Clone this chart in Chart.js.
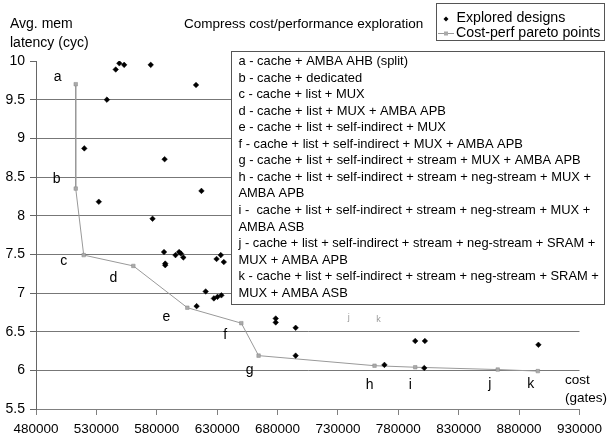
<!DOCTYPE html>
<html>
<head>
<meta charset="utf-8">
<script src="https://cdn.jsdelivr.net/npm/chart.js@4"></script>
<style>
html,body{margin:0;padding:0;background:#fff;}
#wrap{width:608px;height:437px;position:relative;}
</style>
</head>
<body>
<div id="wrap"><canvas id="c" width="608" height="437"></canvas></div>
<script>
// ---- data ----
const exploredCost = [538700, 546000, 549000, 553000, 575000, 612500, 520000, 532000, 586500, 576500,
  617000, 586000, 587000, 587000, 595500, 598500, 600000, 602000, 620500, 629500,
  633000, 635500, 627300, 630300, 633500, 613000, 678500, 678500, 695000, 695000,
  794000, 802000, 768500, 801500, 896000];
const exploredLatency = [9.50, 9.89, 9.97, 9.95, 9.95, 9.69, 8.87, 8.18, 8.73, 7.96,
  8.32, 7.53, 7.38, 7.36, 7.49, 7.53, 7.51, 7.46, 7.02, 7.44,
  7.49, 7.40, 6.93, 6.95, 6.97, 6.83, 6.67, 6.62, 6.55, 6.19,
  6.38, 6.38, 6.07, 6.03, 6.33];

const paretoCost = [512900, 512900, 519500, 560600, 605300, 650000, 664300, 760300, 794000, 862300, 895500];
const paretoLatency = [9.70, 8.35, 7.49, 7.35, 6.81, 6.61, 6.19, 6.06, 6.04, 6.01, 5.99];
const paretoLabels = ['a', 'b', 'c', 'd', 'e', 'f', 'g', 'h', 'i', 'j', 'k'];

const designNotes = [
  'a - cache + AMBA AHB (split)',
  'b - cache + dedicated',
  'c - cache + list + MUX',
  'd - cache + list + MUX + AMBA APB',
  'e - cache + list + self-indirect + MUX',
  'f - cache + list + self-indirect + MUX + AMBA APB',
  'g - cache + list + self-indirect + stream + MUX + AMBA APB',
  'h - cache + list + self-indirect + stream + neg-stream + MUX +',
  'AMBA APB',
  'i -  cache + list + self-indirect + stream + neg-stream + MUX +',
  'AMBA ASB',
  'j - cache + list + self-indirect + stream + neg-stream + SRAM +',
  'MUX + AMBA APB',
  'k - cache + list + self-indirect + stream + neg-stream + SRAM +',
  'MUX + AMBA ASB'
];

const xTicks = [480000, 530000, 580000, 630000, 680000, 730000, 780000, 830000, 880000, 930000];
const yTicks = [5.5, 6, 6.5, 7, 7.5, 8, 8.5, 9, 9.5, 10];

const chartTitle = 'Compress cost/performance exploration';
const yTitle = ['Avg. mem', 'latency (cyc)'];
const xTitle = ['cost', '(gates)'];
const legendNames = ['Explored designs', 'Cost-perf pareto points'];
// stray faint labels in the plot
const faintLabels = ['j', 'k'];
const faintCost = [739000, 763600];
const faintLatency = [6.68, 6.66];

// ---- layout / style (pixel offsets for letter labels relative to their pareto point) ----
const labelOffsets = [[-18,-7],[-19,-9],[-20,6],[-20,12],[-21,9],[-16,12],[-9,15],[-5,19],[-5,18],[-8,15],[-7,13]];
const FONT = '"Liberation Sans", Arial, sans-serif';

const overlay = {
  id: 'overlay',
  afterDatasetsDraw(chart) {
    const ctx = chart.ctx;
    const xs = chart.scales.x, ys = chart.scales.y;
    ctx.save();
    ctx.fillStyle = '#000';
    ctx.textBaseline = 'middle';
    // letter labels
    ctx.font = '14px ' + FONT;
    ctx.textAlign = 'center';
    paretoLabels.forEach((l, i) => {
      const px = xs.getPixelForValue(paretoCost[i]) + labelOffsets[i][0];
      const py = ys.getPixelForValue(paretoLatency[i]) + labelOffsets[i][1];
      ctx.fillText(l, px, py);
    });
    ctx.fillStyle = '#999';
    ctx.font = '9px ' + FONT;
    faintLabels.forEach((l, i) => {
      ctx.fillText(l, xs.getPixelForValue(faintCost[i]), ys.getPixelForValue(faintLatency[i]));
    });
    // notes box
    ctx.fillStyle = '#fff';
    ctx.fillRect(231.5, 51.5, 373, 253);
    ctx.strokeStyle = '#555';
    ctx.lineWidth = 1;
    ctx.strokeRect(231.5, 51.5, 373, 253);
    ctx.fillStyle = '#000';
    ctx.textAlign = 'left';
    ctx.textBaseline = 'alphabetic';
    ctx.font = '12.9px ' + FONT;
    designNotes.forEach((t, i) => ctx.fillText(t, 238.5, 65 + i * 16.55));
    // legend box
    ctx.fillStyle = '#fff';
    ctx.fillRect(436.5, 3.5, 168, 37);
    ctx.strokeStyle = '#555';
    ctx.strokeRect(436.5, 3.5, 168, 37);
    // diamond
    ctx.fillStyle = '#000';
    ctx.beginPath();
    ctx.moveTo(446, 16.5); ctx.lineTo(448.5, 19); ctx.lineTo(446, 21.5); ctx.lineTo(443.5, 19); ctx.closePath();
    ctx.fill();
    // line sample
    ctx.strokeStyle = '#999';
    ctx.beginPath(); ctx.moveTo(438, 33.5); ctx.lineTo(454, 33.5); ctx.stroke();
    ctx.fillStyle = '#aaa';
    ctx.fillRect(444, 31.5, 4, 4);
    ctx.fillStyle = '#000';
    ctx.textBaseline = 'middle';
    ctx.font = '14.2px ' + FONT;
    ctx.fillText(legendNames[0], 456.5, 18.5);
    ctx.fillText(legendNames[1], 456, 33.5);
    // titles
    ctx.font = '13.5px ' + FONT;
    ctx.fillText(chartTitle, 184, 24);
    ctx.font = '14px ' + FONT;
    ctx.fillText(yTitle[0], 10, 24);
    ctx.fillText(yTitle[1], 10, 43);
    ctx.font = '13.5px ' + FONT;
    ctx.fillText(xTitle[0], 565, 380);
    ctx.fillText(xTitle[1], 565, 398);
    ctx.restore();
  }
};

new Chart(document.getElementById('c'), {
  type: 'scatter',
  data: {
    datasets: [
      {
        label: legendNames[1],
        data: paretoCost.map((c, i) => ({x: c, y: paretoLatency[i]})),
        showLine: true,
        borderColor: '#999',
        borderWidth: 1,
        pointStyle: 'rect',
        pointRadius: 2.5,
        pointBackgroundColor: '#aaa',
        pointBorderColor: '#888',
        pointBorderWidth: 0.5,
        order: 2
      },
      {
        label: legendNames[0],
        data: exploredCost.map((c, i) => ({x: c, y: exploredLatency[i]})),
        pointStyle: 'rectRot',
        pointRadius: 2.8,
        pointBackgroundColor: '#000',
        pointBorderColor: '#000',
        pointBorderWidth: 0.5,
        order: 1
      }
    ]
  },
  options: {
    responsive: false,
    animation: false,
    devicePixelRatio: 1,
    layout: { padding: { left: 0, top: 61, right: 25, bottom: 0 }, autoPadding: false },
    plugins: { legend: { display: false }, title: { display: false }, tooltip: { enabled: false } },
    scales: {
      x: {
        type: 'linear',
        min: xTicks[0], max: xTicks[xTicks.length - 1],
        afterBuildTicks: s => { s.ticks = xTicks.map(v => ({value: v})); },
        afterFit: s => { s.height = 28; },
        ticks: { callback: v => String(v), color: '#000', font: { family: FONT, size: 13.5 }, padding: 6, maxRotation: 0, autoSkip: false },
        grid: { drawOnChartArea: false, tickLength: 6, tickColor: '#808080' },
        border: { color: '#808080', width: 1 }
      },
      y: {
        min: yTicks[0], max: yTicks[yTicks.length - 1],
        afterBuildTicks: s => { s.ticks = yTicks.map(v => ({value: v})); },
        afterFit: s => { s.width = 36; },
        ticks: { callback: v => String(v), color: '#000', font: { family: FONT, size: 14 }, padding: 5 },
        grid: {
          color: c => (c.tick && (c.tick.value === 10 || c.tick.value === 5.5)) ? 'rgba(0,0,0,0)' : '#777',
          tickColor: '#666', tickLength: 6
        },
        border: { color: '#666', width: 1 }
      }
    }
  },
  plugins: [overlay]
});
</script>
</body>
</html>
